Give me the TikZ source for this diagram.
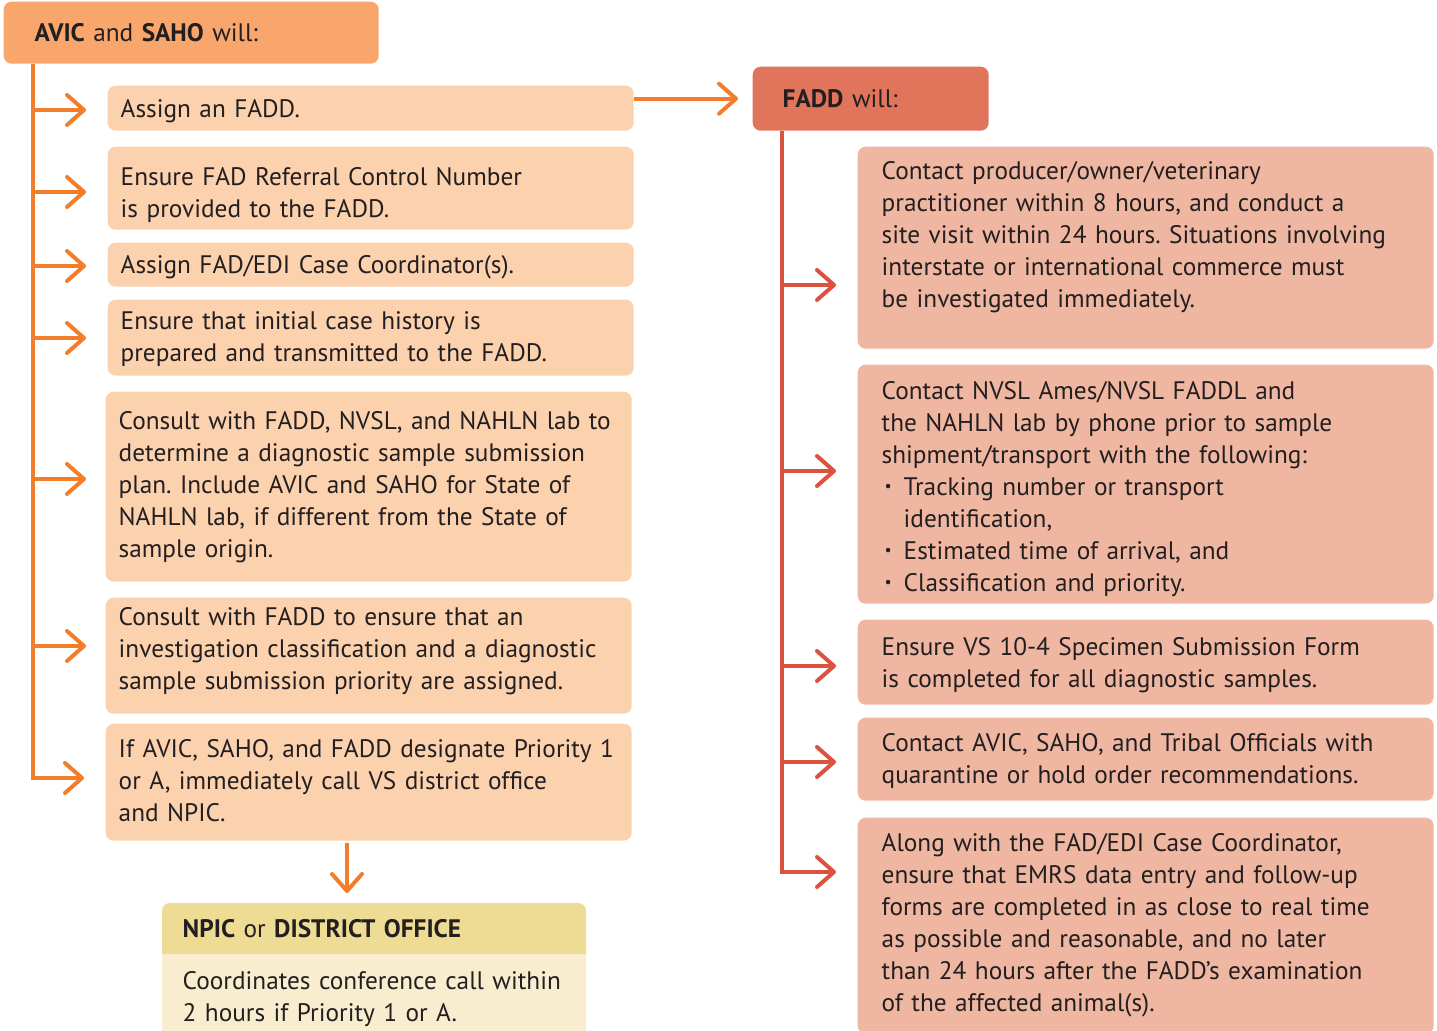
\documentclass[tikz,border=0pt]{standalone}
\usepackage{fontspec}
\setmainfont{PT Sans}
\usetikzlibrary{arrows.meta}
\definecolor{avichead}{HTML}{F9A66C}
\definecolor{avicbox}{HTML}{FCD1AE}
\definecolor{lineorange}{HTML}{F27D2B}
\definecolor{faddhead}{HTML}{E0755C}
\definecolor{faddbox}{HTML}{EFB6A1}
\definecolor{linered}{HTML}{DA5340}
\definecolor{npichead}{HTML}{EEDC94}
\definecolor{npicbody}{HTML}{F8EECF}
\definecolor{textgray}{HTML}{231F20}
\newcommand{\smallbullet}{\makebox[0.220000cm][l]{\hspace{0.030000cm}\raisebox{0.040000cm}{\fontsize{4.5}{4.5}\selectfont\textbullet}}}
\begin{document}
\begin{tikzpicture}[
    headbox/.style={rounded corners=0.080000cm, anchor=north west, inner ysep=0pt, align=left, text=textgray},
    leftbox/.style={fill=avicbox, rounded corners=0.080000cm, anchor=north west, inner xsep=0.130000cm, inner ysep=0pt, text width=5.000000cm, align=left, text=textgray},
    rightbox/.style={fill=faddbox, rounded corners=0.080000cm, anchor=north west, inner xsep=0.240000cm, inner ysep=0pt, text width=5.280000cm, align=left, text=textgray},
    orangearrow/.style={draw=lineorange, line width=0.040000cm, -{Straight Barb[length=0.170000cm, width=0.300000cm, round]}},
    redarrow/.style={draw=linered, line width=0.040000cm, -{Straight Barb[length=0.170000cm, width=0.300000cm, round]}}]
                    \useasboundingbox (0.000000,0.000000) rectangle (14.370000,-10.310000);
                    \clip (0.000000,0.000000) rectangle (14.370000,-10.310000);
                    {\fontsize{7.2}{9.1}\selectfont\frenchspacing

                    % Drawing header AVIC
                    \node (avic) [headbox, fill=avichead, inner xsep=0.310000cm, text width=3.130000cm, minimum height=0.620000cm] at (0.030000,-0.010000) {\textbf{AVIC} and \textbf{SAHO} will:};%

                    % Drawing boxes of AVIC
                    \node (L1) [leftbox, text height=0.320000cm, text depth=0.130000cm] at (1.070000,-0.850000) {Assign an FADD.};%
                    \node (L2) [leftbox, text height=0.390000cm, text depth=0.440000cm] at (1.070000,-1.460000) {Ensure FAD Referral Control Number\\is provided to the FADD.};%
                    \node (L3) [leftbox, text height=0.310000cm, text depth=0.130000cm] at (1.070000,-2.420000) {Assign FAD/EDI Case Coordinator(s).};%
                    \node (L4) [leftbox, text height=0.300000cm, text depth=0.460000cm] at (1.070000,-2.990000) {Ensure that initial case history is\\prepared and transmitted to the FADD.};%
                    \node (L5) [leftbox, text height=0.380000cm, text depth=1.520000cm] at (1.050000,-3.910000) {Consult with FADD, NVSL, and NAHLN lab to\\determine a diagnostic sample submission\\plan. Include AVIC and SAHO for State of\\NAHLN lab, if different from the State of\\sample origin.};%
                    \node (L6) [leftbox, text height=0.280000cm, text depth=0.880000cm] at (1.050000,-5.970000) {Consult with FADD to ensure that an\\investigation classification and a diagnostic\\sample submission priority are assigned.};%
                    \node (L7) [leftbox, text height=0.340000cm, text depth=0.830000cm] at (1.050000,-7.230000) {If AVIC, SAHO, and FADD designate Priority~1\\or A, immediately call VS district office\\and NPIC.};%

                    % Drawing header FADD
                    \node (fadd) [headbox, fill=faddhead, inner xsep=0.300000cm, text width=1.760000cm, minimum height=0.640000cm] at (7.520000,-0.660000) {\textbf{FADD} will:};%

                    % Drawing boxes of FADD
                    \node (R1) [rightbox, text height=0.330000cm, text depth=1.690000cm] at (8.570000,-1.460000) {Contact producer/owner/veterinary\\practitioner within 8 hours, and conduct a\\site visit within 24 hours. Situations involving\\interstate or international commerce must\\be investigated immediately.};%
                    \node (R2) [rightbox, text height=0.350000cm, text depth=2.040000cm] at (8.570000,-3.640000) {Contact NVSL Ames/NVSL FADDL and\\the NAHLN lab by phone prior to sample\\shipment/transport with the following:\\\smallbullet Tracking number or transport\\\hspace*{0.220000cm}identification,\\\smallbullet Estimated time of arrival, and\\\smallbullet Classification and priority.};%
                    \node (R3) [rightbox, text height=0.360000cm, text depth=0.490000cm] at (8.570000,-6.190000) {Ensure VS 10-4 Specimen Submission Form\\is completed for all diagnostic samples.};%
                    \node (R4) [rightbox, text height=0.340000cm, text depth=0.490000cm] at (8.570000,-7.170000) {Contact AVIC, SAHO, and Tribal Officials with\\quarantine or hold order recommendations.};%
                    \node (R5) [rightbox, text height=0.340000cm, text depth=1.820000cm] at (8.570000,-8.170000) {Along with the FAD/EDI Case Coordinator,\\ensure that EMRS data entry and follow-up\\forms are completed in as close to real time\\as possible and reasonable, and no later\\than 24 hours after the FADD's examination\\of the affected animal(s).};%

                    % Drawing card NPIC
                    \fill [npicbody, rounded corners=0.080000cm] (1.620000,-9.030000) rectangle (5.860000,-10.600000);%
                    \begin{scope}
                    \clip (1.620000,-9.030000) rectangle (5.860000,-9.530000);%
                    \fill [npichead, rounded corners=0.080000cm] (1.620000,-9.030000) rectangle (5.860000,-10.600000);%
                    \end{scope}
                    \node (npic) [headbox, inner xsep=0.200000cm, text width=3.840000cm, minimum height=0.500000cm] at (1.620000,-9.030000) {\textbf{NPIC} or \textbf{DISTRICT OFFICE}};%
                    \node (npicbody) [headbox, inner xsep=0.200000cm, text width=3.840000cm, text height=0.360000cm, text depth=0.420000cm] at (1.620000,-9.530000) {Coordinates conference call within\\2 hours if Priority 1 or A.};%

                    % Marking branch points
                    \coordinate (a1) at (0.330000,-1.100000);%
                    \coordinate (a2) at (0.330000,-1.920000);%
                    \coordinate (a3) at (0.330000,-2.660000);%
                    \coordinate (a4) at (0.330000,-3.380000);%
                    \coordinate (a5) at (0.330000,-4.790000);%
                    \coordinate (a6) at (0.330000,-6.460000);%
                    \coordinate (a7) at (0.330000,-7.780000);%
                    \coordinate (b1) at (7.820000,-2.850000);%
                    \coordinate (b2) at (7.820000,-4.710000);%
                    \coordinate (b3) at (7.820000,-6.660000);%
                    \coordinate (b4) at (7.820000,-7.620000);%
                    \coordinate (b5) at (7.820000,-8.720000);%
                    \coordinate (d1) at (3.470000,-8.430000);%

                    % Drawing arrows of AVIC
                    \draw [orangearrow, shorten >=0.210000cm] (avic.south -| a7) -- (a7) -- (a7 -| L7.west);%
                    \draw [orangearrow, shorten >=0.210000cm] (a1) -- (a1 -| L1.west);%
                    \draw [orangearrow, shorten >=0.210000cm] (a2) -- (a2 -| L2.west);%
                    \draw [orangearrow, shorten >=0.210000cm] (a3) -- (a3 -| L3.west);%
                    \draw [orangearrow, shorten >=0.210000cm] (a4) -- (a4 -| L4.west);%
                    \draw [orangearrow, shorten >=0.190000cm] (a5) -- (a5 -| L5.west);%
                    \draw [orangearrow, shorten >=0.190000cm] (a6) -- (a6 -| L6.west);%

                    % Drawing arrow L1 fadd
                    \draw [orangearrow, shorten >=0.140000cm] (L1.east |- fadd.west) -- (fadd.west);%

                    % Drawing arrow L7 npic
                    \draw [orangearrow, shorten >=0.100000cm] (d1) -- (d1 |- npic.north);%

                    % Drawing arrows of FADD
                    \draw [redarrow, shorten >=0.210000cm] (fadd.south -| b5) -- (b5) -- (b5 -| R5.west);%
                    \draw [redarrow, shorten >=0.210000cm] (b1) -- (b1 -| R1.west);%
                    \draw [redarrow, shorten >=0.210000cm] (b2) -- (b2 -| R2.west);%
                    \draw [redarrow, shorten >=0.210000cm] (b3) -- (b3 -| R3.west);%
                    \draw [redarrow, shorten >=0.210000cm] (b4) -- (b4 -| R4.west);%
                    }
\end{tikzpicture}
\end{document}
